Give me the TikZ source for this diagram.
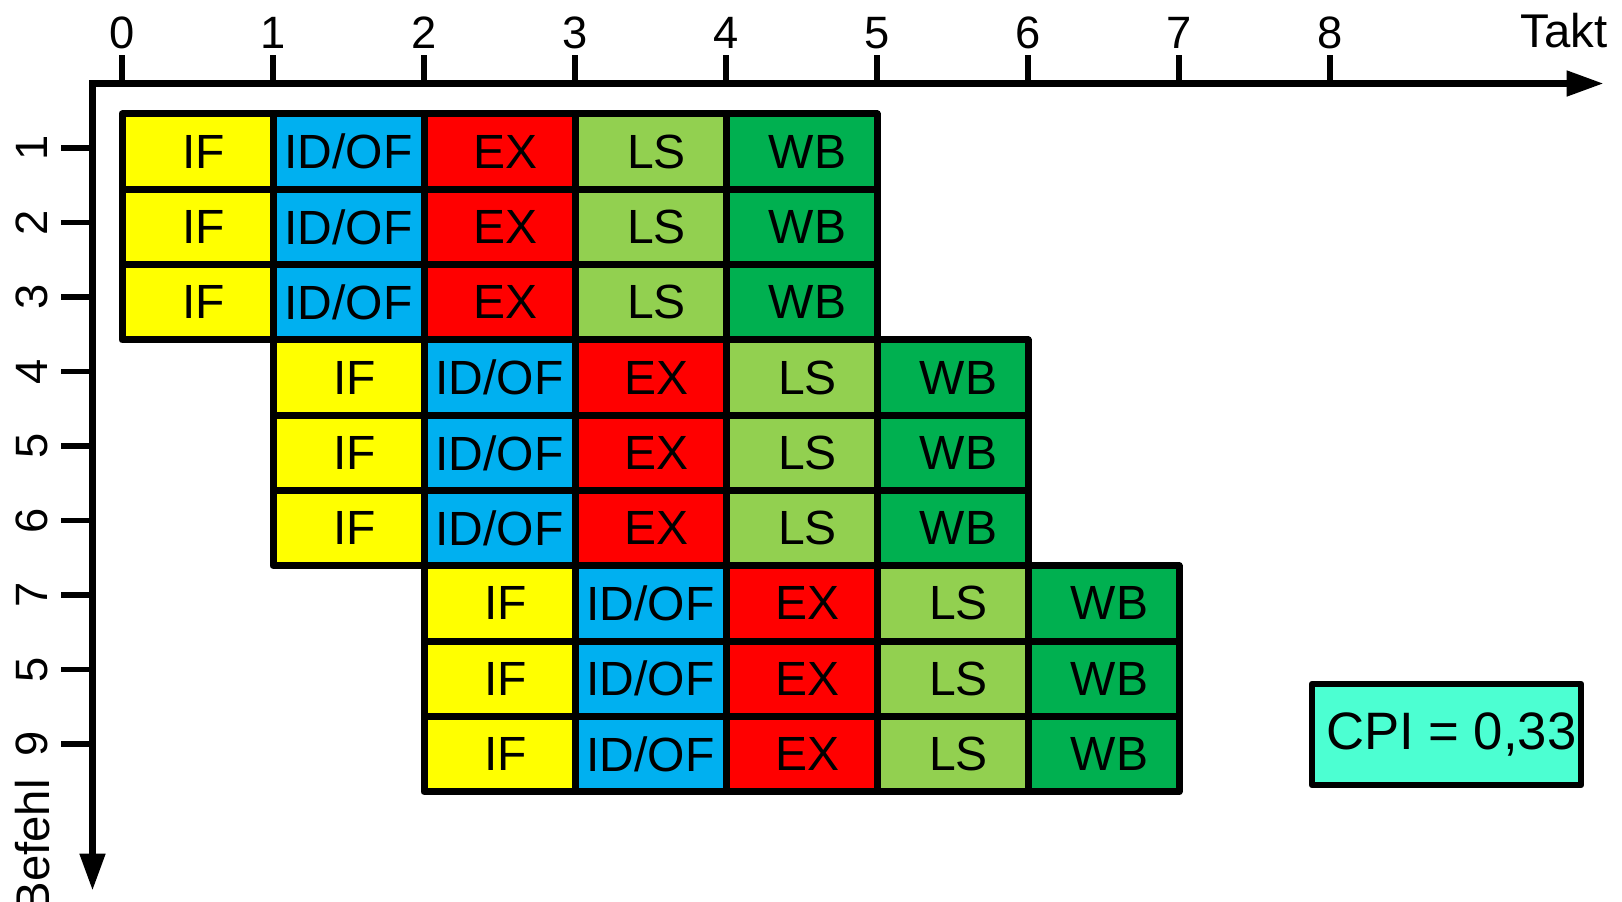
\documentclass[tikz,border=0pt]{standalone}
\usepackage{fontspec}
\setmainfont{Liberation Sans}
\usepackage{xcolor}
\usepackage{tikz}
\usetikzlibrary{arrows.meta}
\definecolor{ifColor}{HTML}{FFFF00}
\definecolor{idColor}{HTML}{00B0F0}
\definecolor{exColor}{HTML}{FF0000}
\definecolor{lsColor}{HTML}{92D050}
\definecolor{wbColor}{HTML}{00B050}
\definecolor{cpiColor}{HTML}{4CFFD2}

\begin{document}
\begin{tikzpicture}[x=0.75pt, y=-0.75pt,
    stage/.style={draw, line width=5.25pt, line join=round, inner sep=0pt,
        minimum width=113.25pt, minimum height=56.5pt,
        font=\fontsize{36}{40}\selectfont},
    axis/.style={line width=5.6pt,
        {Triangle[length=28pt,width=18pt]}-{Triangle[length=28pt,width=18pt]}},
    tickmark/.style={line width=4.2pt},
    ticklabel/.style={inner sep=0pt, font=\fontsize{34}{38}\selectfont},
    axislabel/.style={inner sep=0pt, font=\fontsize{35.5}{40}\selectfont}]
    \useasboundingbox (0,0) rectangle (1622,901);
    \coordinate (origin) at (92.5,83.5);
    \coordinate (taktEnd) at (1604,83.5);
    \coordinate (befehlEnd) at (92.5,891);
    \draw[axis] (befehlEnd) -- (origin) -- (taktEnd);
    \foreach \t in {0,...,8} {
        \draw[tickmark] ({122+151*\t},83.5) -- ({122+151*\t},55);
        \node[ticklabel, anchor=base] (takt-\t) at ({122+151*\t},48.5) {\t};
    }
    \foreach \i/\lab in {1/1,2/2,3/3,4/4,5/5,6/6,7/7,8/5,9/9} {
        \draw[tickmark] (61,{148+74.5*(\i-1)}) -- (92.5,{148+74.5*(\i-1)});
        \node[ticklabel, rotate=90, anchor=base] (nr-\i) at (47,{148+74.5*(\i-1)}) {\lab};
    }
    \node[axislabel, anchor=base east] (taktLabel) at (1608,47) {Takt};
    \node[axislabel, rotate=90, anchor=base east] (befehlLabel) at (50,779) {Befehl};
    \foreach \r in {1,...,9} {
        \pgfmathtruncatemacro{\st}{(\r-1)/3}
        \foreach \s/\lab/\col/\sh in {0/IF/ifColor/9pt,1/{ID/OF}/idColor/0pt,2/EX/exColor/9pt,3/LS/lsColor/9pt,4/WB/wbColor/9pt}
            \node[stage, fill=\col] (cell-\r-\s) at ({197.5+151*(\st+\s)},{151.65+75.3*(\r-1)}) {\kern\sh\lab};
    }
    \node[draw, fill=cpiColor, line width=4.3pt, line join=round, inner sep=0pt,
        minimum width=202pt, minimum height=76pt,
        font=\fontsize{39.5}{44}\selectfont] (cpi) at (1446.5,734.5) {\kern7pt CPI = 0,33};
\end{tikzpicture}
\end{document}
